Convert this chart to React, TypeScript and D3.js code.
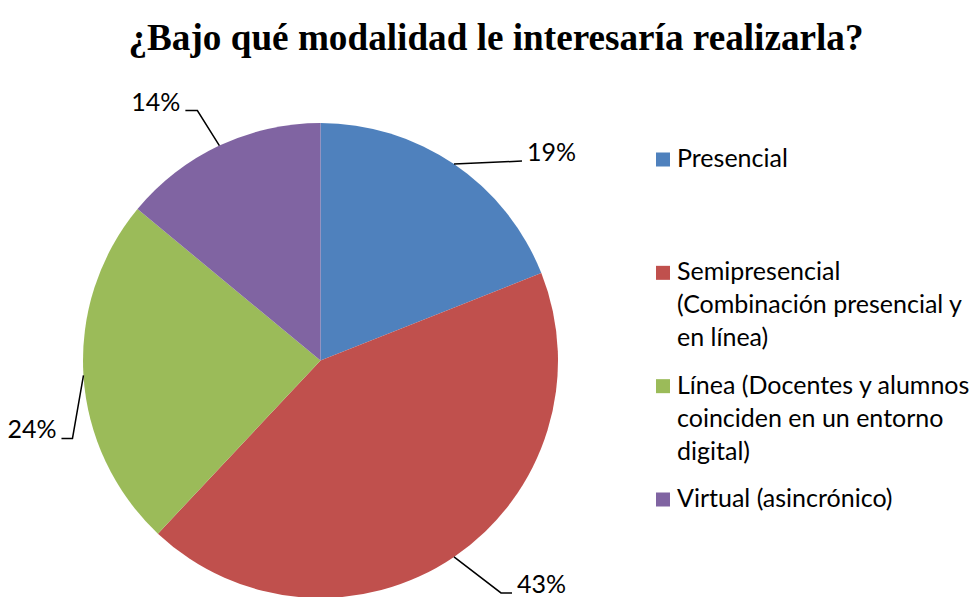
import React from "react";
import * as d3 from "d3";

const title = "¿Bajo qué modalidad le interesaría realizarla?";
const categories = [
  "Presencial",
  "Semipresencial (Combinación presencial y en línea)",
  "Línea (Docentes y alumnos coinciden en un entorno digital)",
  "Virtual (asincrónico)",
];
const legendLines = [
  ["Presencial"],
  ["Semipresencial", "(Combinación presencial y", "en línea)"],
  ["Línea (Docentes y alumnos", "coinciden en un entorno", "digital)"],
  ["Virtual (asincrónico)"],
];
const values = [19, 43, 24, 14];
const valueLabels = ["19%", "43%", "24%", "14%"];
const colors = ["#4F81BD", "#C0504D", "#9BBB59", "#8064A2"];

// leader-line layout: elbow offset from anchor, then horizontal run
const leaders = [
  { ex: 68, ey: -3, run: 0, side: "right" },
  { ex: 47, ey: 36, run: 11, side: "right" },
  { ex: -11, ey: 63, run: -11, side: "left" },
  { ex: -22, ey: -35, run: -12, side: "left" },
];

const W = 969;
const H = 597;
const cx = 320.5;
const cy = 360.5;
const R = 237.5;
const FONT = "Lato, 'Open Sans', sans-serif";

export default function App() {
  const pie = d3.pie<number>().sort(null).value((d) => d)(values);
  const arc = d3.arc<d3.PieArcDatum<number>>().innerRadius(0).outerRadius(R);
  const legendY = d3.scaleLinear().domain([0, 3]).range([167, 507]);

  return (
    <svg
      width={W}
      height={H}
      style={{ position: "absolute", left: 0, top: 0, background: "#fff" }}
    >
      <text
        x={496}
        y={50}
        textAnchor="middle"
        fontFamily="'Liberation Serif', 'Times New Roman', serif"
        fontWeight="bold"
        fontSize={37.2}
        fill="#000"
      >
        {title}
      </text>
      <g transform={`translate(${cx},${cy})`}>
        {pie.map((p, i) => (
          <path key={i} d={arc(p) || ""} fill={colors[i]} />
        ))}
        {pie.map((p, i) => {
          const a = (p.startAngle + p.endAngle) / 2;
          const ax = R * Math.sin(a);
          const ay = -R * Math.cos(a);
          const L = leaders[i];
          const bx = ax + L.ex;
          const by = ay + L.ey;
          const tx = bx + L.run;
          const ty = by;
          const right = L.side === "right";
          return (
            <g key={"l" + i}>
              <polyline
                points={`${ax},${ay} ${bx},${by} ${tx},${ty}`}
                fill="none"
                stroke="#000"
                strokeWidth={1.5}
              />
              <text
                x={tx + (right ? 5 : -5)}
                y={ty}
                textAnchor={right ? "start" : "end"}
                fontFamily={FONT}
                fontSize={25}
                fill="#000"
              >
                {valueLabels[i]}
              </text>
            </g>
          );
        })}
      </g>
      <g>
        {categories.map((c, i) => {
          const y0 = legendY(i);
          return (
            <g key={c}>
              <rect x={656} y={y0 - 14.5} width={14} height={14} fill={colors[i]} />
              {legendLines[i].map((ln, j) => (
                <text
                  key={j}
                  x={677}
                  y={y0 + j * 33}
                  fontFamily={FONT}
                  fontSize={25}
                  fill="#000"
                >
                  {ln}
                </text>
              ))}
            </g>
          );
        })}
      </g>
    </svg>
  );
}
